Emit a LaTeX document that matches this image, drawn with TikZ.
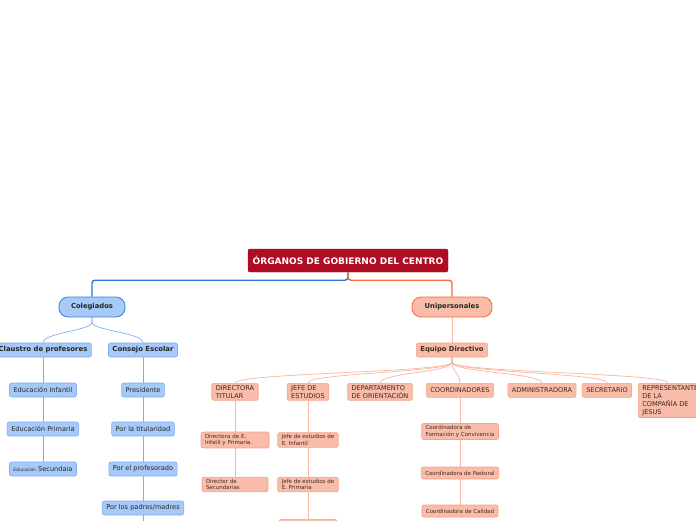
\documentclass[tikz,border=0pt]{standalone}
\usepackage{fontspec}
\setmainfont{DejaVu Sans}
\usetikzlibrary{calc}
\definecolor{titlered}{HTML}{B00C24}
\definecolor{blueline}{HTML}{2F72D6}
\definecolor{bluefill}{HTML}{A6C9F8}
\definecolor{blueedge}{HTML}{7FAEEE}
\definecolor{bluedark}{HTML}{3C7FE4}
\definecolor{orangeline}{HTML}{F4693A}
\definecolor{salmonfill}{HTML}{F9BCA8}
\definecolor{salmonedge}{HTML}{F4A287}
\definecolor{salmonline}{HTML}{F8B5A0}
\definecolor{browntext}{HTML}{3F2A22}

\begin{document}
\begin{tikzpicture}[x=1pt, y=-1pt,
    every node/.style={font=\fontsize{6.6}{8}\selectfont, inner xsep=4pt, inner ysep=2pt, text=black!85},
    titlebox/.style={fill=titlered, draw=titlered!85!black, rounded corners=2pt, text=white,
        font=\bfseries\fontsize{9}{10}\selectfont, minimum width=200pt, minimum height=23pt},
    pillblue/.style={fill=bluefill, draw=bluedark, line width=0.8pt, rounded corners=9pt,
        minimum height=20pt, font=\bfseries\fontsize{6.8}{8}\selectfont},
    pillsalmon/.style={fill=salmonfill, draw=orangeline, line width=0.8pt, rounded corners=9pt,
        minimum height=20pt, font=\bfseries\fontsize{6.8}{8}\selectfont},
    boxblue/.style={fill=bluefill, draw=blueedge, line width=0.6pt, rounded corners=2pt,
        minimum height=14pt},
    boldblue/.style={boxblue, font=\bfseries\fontsize{6.9}{8}\selectfont},
    boxsalmon/.style={fill=salmonfill, draw=salmonedge, line width=0.6pt, rounded corners=2pt,
        minimum height=14pt, text=browntext, align=left},
    smallsalmon/.style={boxsalmon, minimum height=12pt, inner xsep=4pt,
        font=\fontsize{5.5}{6.6}\selectfont},
    bluebranch/.style={draw=blueedge, line width=0.7pt},
    salmonbranch/.style={draw=salmonline, line width=0.7pt}
]
\clip (0,0) rectangle (696,520);

% Root
\node[titlebox] (title) at (348,260.5) {ÓRGANOS DE GOBIERNO DEL CENTRO};

% Main branches
\node[pillblue, minimum width=66pt] (coleg) at (92,307) {Colegiados};
\node[pillsalmon, minimum width=80pt] (unip) at (452,307) {Unipersonales};

\draw[blueline, line width=1.4pt, rounded corners=3pt] (title.south) -- ++(0,8) -| (coleg.north);
\draw[orangeline, line width=1.4pt, rounded corners=3pt] (title.south) -- ++(0,8) -| (unip.north);

% Colegiados
\node[boldblue] (claustro) at (43,350) {Claustro de profesores};
\node[boldblue] (consejo) at (143,350) {Consejo Escolar};

\node[boxblue] (edinf) at (43,390) {Educación Infantil};
\node[boxblue] (edpri) at (43,429) {Educación Primaria};
\node[boxblue] (edsec) at (43,469) {{\fontsize{4.4}{5}\selectfont Educación} Secundaia};

\node[boxblue] (pres) at (143,390) {Presidente};
\node[boxblue] (titul) at (143,429) {Por la titularidad};
\node[boxblue] (profe) at (143,469) {Por el profesorado};
\node[boxblue] (padres) at (143,508) {Por los padres/madres};
\coordinate (padresEnd) at (143,530);

\foreach \kid in {claustro, consejo}
    \draw[bluebranch] (coleg.south) -- ++(0,5) .. controls +(0,8) and +(0,-10) .. (\kid.north);
\foreach \a/\b in {claustro/edinf, edinf/edpri, edpri/edsec, consejo/pres, pres/titul, titul/profe, profe/padres, padres/padresEnd}
    \draw[bluebranch] (\a) -- (\b);

% Unipersonales
\node[boxsalmon, font=\bfseries\fontsize{6.8}{8}\selectfont] (equipo) at (452,350) {Equipo Directivo};
\draw[salmonbranch] (unip) -- (equipo);

\node[boxsalmon, anchor=north] (directora) at (235,383) {DIRECTORA\\TITULAR};
\node[boxsalmon, anchor=north] (jefe) at (308,383) {JEFE DE\\ESTUDIOS};
\node[boxsalmon, anchor=north] (depto) at (380,383) {DEPARTAMENTO\\DE ORIENTACIÓN};
\node[boxsalmon, anchor=north] (coord) at (460,383) {COORDINADORES};
\node[boxsalmon, anchor=north] (admin) at (542,383) {ADMINISTRADORA};
\node[boxsalmon, anchor=north] (secre) at (607,383) {SECRETARIO};
\node[boxsalmon, anchor=north west] (repre) at (638,383) {REPRESENTANTE\\DE LA\\COMPAÑÍA DE\\JESUS};

\foreach \kid in {directora, jefe, depto, coord, admin, secre}
    \draw[salmonbranch] (equipo.south) -- ++(0,5) .. controls +(0,10) and +(0,-10) .. (\kid.north);
\draw[salmonbranch] (equipo.south) -- ++(0,5) .. controls +(0,10) and +(0,-10) .. ($(repre.north west)+(30,0)$);

\node[smallsalmon, text width=60pt] (dirinf) at (235,440) {Directora de E.\\Infatil y Primaria.};
\node[smallsalmon, text width=58pt] (dirsec) at (235,484.5) {Director de\\Secundarias};

\node[smallsalmon] (jefinf) at (308,440) {Jefe de estudios de\\E. Infantil};
\node[smallsalmon] (jefpri) at (308,484.5) {Jefe de estudios de\\E. Primaria};
\node[smallsalmon, anchor=north, minimum width=58pt] (jefnext) at (308,519) {};

\node[smallsalmon] (cform) at (460,431.5) {Coordinadora de\\Formación y Convivencia};
\node[smallsalmon] (cpast) at (460,473) {Coordinadora de Pastoral};
\node[smallsalmon] (ccal) at (460,511) {Coordinadora de Calidad};

\foreach \a/\b in {directora/dirinf, dirinf/dirsec, jefe/jefinf, jefinf/jefpri, jefpri/jefnext, coord/cform, cform/cpast, cpast/ccal}
    \draw[salmonbranch] (\a) -- (\b);
\end{tikzpicture}
\end{document}
